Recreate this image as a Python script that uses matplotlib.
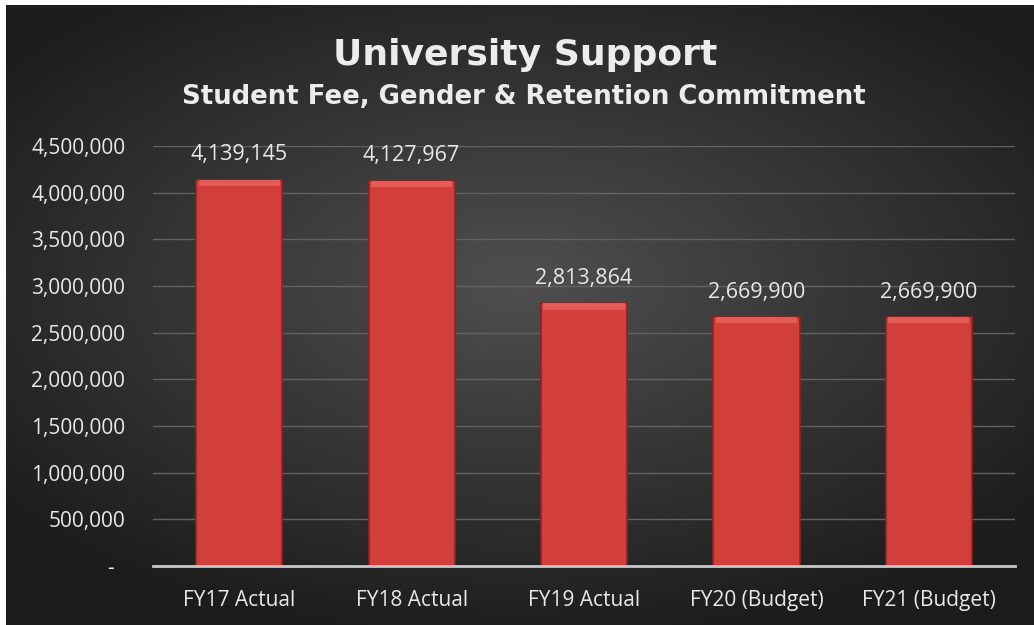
import matplotlib.pyplot as plt
import numpy as np
from matplotlib.ticker import FuncFormatter

categories = ['FY17 Actual', 'FY18 Actual', 'FY19 Actual', 'FY20 (Budget)', 'FY21 (Budget)']
values = [4139145, 4127967, 2813864, 2669900, 2669900]
y_ticks = list(range(0, 4500001, 500000))

plt.rcParams['font.family'] = ['Open Sans', 'DejaVu Sans']

fig = plt.figure(figsize=(10.34, 6.25), dpi=100)
fig.patch.set_facecolor('white')

# dark radial gradient background
bg = fig.add_axes([6 / 1034, 0, 1 - 6 / 1034, 1 - 5 / 625])
gx, gy = np.meshgrid(np.linspace(-1, 1, 400), np.linspace(-1, 1, 250))
r = np.sqrt((gx * 0.9) ** 2 + ((gy + 0.1) * 1.0) ** 2)
shade = np.clip(0.31 - 0.17 * r, 0.11, 0.31)
bg.imshow(np.dstack([shade, shade, shade]), aspect='auto', extent=[0, 1, 0, 1])
bg.set_axis_off()

ax = fig.add_axes([153 / 1034, 1 - 566 / 625, (1015 - 153) / 1034, (566 - 146) / 625])
ax.set_facecolor('none')

x = np.arange(len(categories))
ax.bar(x, values, width=0.5, color='#d23e3a', edgecolor='#8e2422', linewidth=1.2, zorder=3)
# bevel highlight on top of each bar
bevel = 70000
ax.bar(x, [bevel] * len(values), width=0.47, bottom=[v - bevel for v in values],
       color='#e45a55', linewidth=0, zorder=4)

for xi, v in zip(x, values):
    ax.text(xi, v + 265000, f'{v:,}', ha='center', va='center', color='#e8e8e8',
            fontsize=15.5, zorder=5)

ax.set_xlim(-0.5, 4.5)
ax.set_ylim(0, 4500000)
ax.set_yticks(y_ticks)
ax.yaxis.set_major_formatter(FuncFormatter(lambda v, p: '-  ' if v == 0 else f'{int(v):,}'))
ax.set_xticks(x)
ax.set_xticklabels(categories)
ax.tick_params(axis='both', length=0, colors='#e8e8e8', labelsize=15)
ax.tick_params(axis='y', pad=20)
ax.tick_params(axis='x', pad=17)
ax.grid(axis='y', color='#626262', linewidth=1, zorder=0)
for s in ['top', 'right', 'left']:
    ax.spines[s].set_visible(False)
ax.spines['bottom'].set_color('#c8c8c8')
ax.spines['bottom'].set_linewidth(2)
ax.spines['bottom'].set_zorder(6)

fig.text(0.508, 0.912, 'University Support', ha='center', va='center',
         color='#ececec', fontsize=26, fontweight='bold', family='DejaVu Sans')
fig.text(0.507, 0.845, 'Student Fee, Gender & Retention Commitment', ha='center', va='center',
         color='#ececec', fontsize=18.7, fontweight='bold', family='DejaVu Sans')

fig.savefig('out.png', dpi=100, facecolor=fig.get_facecolor())
